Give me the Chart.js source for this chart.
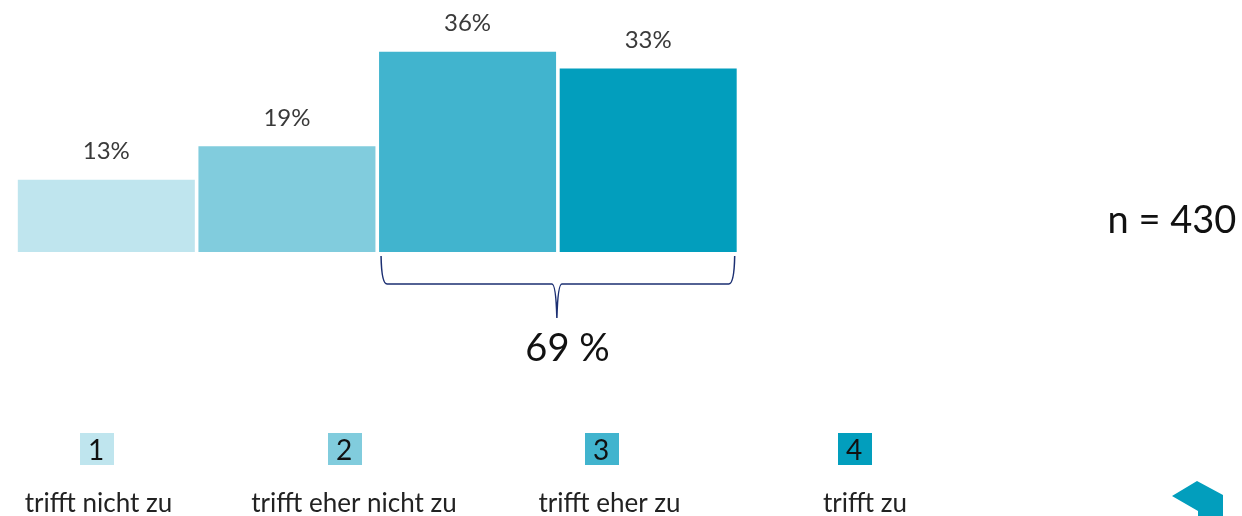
<!DOCTYPE html>
<html>
<head>
<meta charset="utf-8">
<title>Chart</title>
<script src="https://cdn.jsdelivr.net/npm/chart.js@4"></script>
<style>
  html, body { margin: 0; padding: 0; background: #fff; }
  canvas { display: block; }
</style>
</head>
<body>
<canvas id="chart" width="1242" height="516"></canvas>
<script>
const categories = ['1', '2', '3', '4'];
const answers = ['trifft nicht zu', 'trifft eher nicht zu', 'trifft eher zu', 'trifft zu'];
const shares = [13, 19, 36, 33];
const barColors = ['#BFE5EE', '#81CCDD', '#41B4CE', '#029EBD'];
const sumLabel = '69 %';
const sampleLabel = 'n = 430';

const FONT = 'Lato, "Open Sans", sans-serif';
const swatchX = [80, 328, 585, 838];
const numberX = [96, 344, 601, 854];
const answerX = [98.5, 354, 609.5, 865];

function text(ctx, str, x, y, size, color) {
  ctx.font = size + 'px ' + FONT;
  ctx.fillStyle = color;
  ctx.textAlign = 'center';
  ctx.textBaseline = 'middle';
  ctx.fillText(str, x, y);
}

const annotations = {
  id: 'annotations',
  afterDatasetsDraw(chart) {
    const ctx = chart.ctx;
    const bars = chart.getDatasetMeta(0).data;
    ctx.save();

    // value labels over the bars
    bars.forEach((bar, i) => {
      text(ctx, shares[i] + '%', bar.x, bar.y - 28, 24, '#3A3A3A');
    });

    // bracket under bars 3 and 4
    const left = bars[2].x - bars[2].width / 2 + 2;
    const right = bars[3].x + bars[3].width / 2 - 2;
    const mid = (left + right) / 2 - 1;
    ctx.strokeStyle = '#1B2F72';
    ctx.lineWidth = 1.5;
    ctx.beginPath();
    ctx.moveTo(left, 256);
    ctx.quadraticCurveTo(left + 0.5, 284, left + 6, 284);
    ctx.lineTo(mid - 5, 284);
    ctx.quadraticCurveTo(mid - 1, 284, mid, 318);
    ctx.quadraticCurveTo(mid + 1, 284, mid + 5, 284);
    ctx.lineTo(right - 6, 284);
    ctx.quadraticCurveTo(right - 0.5, 284, right, 256);
    ctx.stroke();

    text(ctx, sumLabel, 567.5, 349, 38, '#111');
    text(ctx, sampleLabel, 1172, 221, 38, '#111');

    // legend row
    categories.forEach((c, i) => {
      ctx.fillStyle = barColors[i];
      ctx.fillRect(swatchX[i], 433, 34, 32);
      text(ctx, c, numberX[i], 451, 28, '#111');
      text(ctx, answers[i], answerX[i], 504, 26, '#222');
    });

    // logo corner
    ctx.fillStyle = '#029EBD';
    ctx.beginPath();
    ctx.moveTo(1172, 496);
    ctx.lineTo(1197, 481);
    ctx.lineTo(1223, 495);
    ctx.lineTo(1223, 516);
    ctx.lineTo(1198, 516);
    ctx.lineTo(1198, 511);
    ctx.closePath();
    ctx.fill();
    ctx.restore();
  }
};

new Chart(document.getElementById('chart'), {
  type: 'bar',
  data: {
    labels: categories,
    datasets: [{
      data: shares,
      backgroundColor: barColors,
      borderWidth: 0,
      barPercentage: 0.98,
      categoryPercentage: 1
    }]
  },
  options: {
    responsive: false,
    animation: false,
    layout: { padding: { left: 16, right: 503.5, top: 0, bottom: 264 } },
    plugins: { legend: { display: false }, tooltip: { enabled: false } },
    scales: {
      x: { display: false },
      y: { display: false, min: 0, max: 45.3 }
    }
  },
  plugins: [annotations]
});
</script>
</body>
</html>
